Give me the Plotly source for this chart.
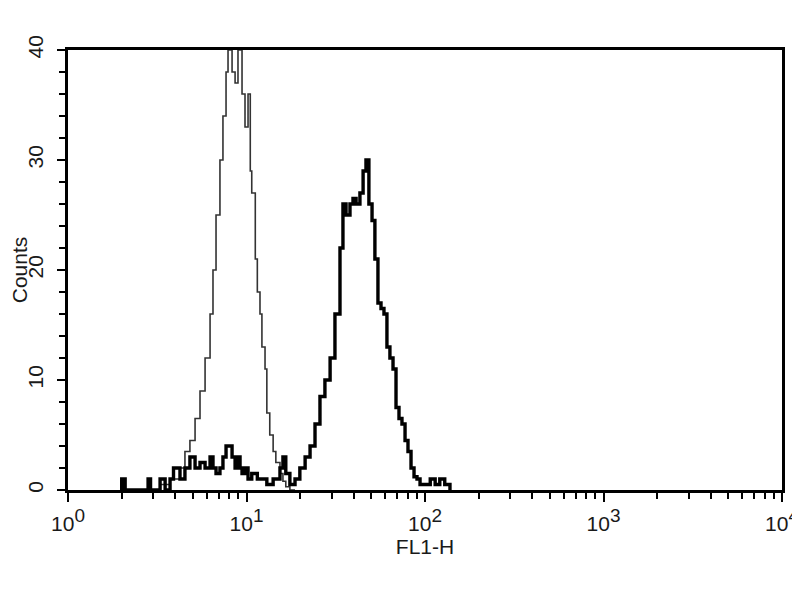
import plotly.graph_objects as go

# FL1-H channel values (log scale) and counts
ctrl_x = [3.0, 3.28, 3.73, 4.24, 4.52, 4.82, 5.15, 5.49, 5.86, 6.25, 6.49, 6.75, 7.10, 7.38, 7.68,
          7.88, 8.08, 8.30, 8.63, 8.96, 9.20, 9.44, 9.81, 10.2, 10.5, 10.7, 11.2, 11.5, 11.9,
          12.2, 12.7, 13.0, 13.5, 14.1, 14.6, 15.4, 16.0, 16.6, 17.5, 18.7]
ctrl_y = [0, 0.5, 1, 2, 3.5, 4.5, 6.5, 9, 12, 16, 20, 25, 30, 34, 38,
          40, 40, 38, 37, 40, 40, 36, 33, 36, 29, 27, 21, 18,
          16, 13, 11, 7, 5, 3.5, 2.5, 1.5, 0.8, 0.3, 0, 0]

pos_x = [1.96, 2.0, 2.09, 2.7, 2.81, 2.9, 3.28, 3.5, 3.73, 3.9, 4.24, 4.52, 4.82, 5.15, 5.49,
         5.86, 6.25, 6.49, 6.75, 7.10, 7.38, 7.68, 7.88, 8.08, 8.30, 8.63, 8.96, 9.20, 9.44,
         9.81, 10.2, 10.7, 11.5, 12.2, 13.0, 14.1, 15.4, 16.0, 16.6, 17.5, 18.7, 19.9, 21.3,
         22.7, 24.2, 25.8, 27.5, 29.4, 31.3, 33.4, 34.7, 36.1, 38.0, 39.5, 41.1, 43.2, 45.0,
         46.7, 48.5, 50.5, 52.4, 54.5, 56.7, 58.9, 61.2, 63.6, 66.2, 68.8, 71.5, 74.3, 77.3,
         80.3, 83.5, 86.8, 90.2, 93.8, 100, 107, 114, 121, 129, 138]
pos_y = [0, 1, 0, 0, 1, 0, 1, 0, 1, 2, 1, 2, 3, 2, 2.5,
         2, 3, 2, 1.5, 2, 3, 4, 4, 4, 3, 2, 3, 2, 1.5,
         2, 1, 1.5, 1, 1, 0.5, 1, 2, 3, 1.5, 0.5, 1, 2, 3,
         4, 6, 8.5, 10, 12, 16, 22, 26, 25, 26, 26.5, 26, 27, 29,
         30, 26, 24.5, 21, 17, 16.5, 16, 13, 12, 11, 7.5, 6.5, 6, 4.5,
         3.5, 2, 1.2, 1, 0.5, 0.5, 1, 0.5, 1, 0.5, 0]

x_major = [1, 10, 100, 1000, 10000]
x_major_text = ["10<sup><span style='font-size:19px'>%d</span></sup>" % k for k in range(5)]
x_minor = [m * d for d in [1, 10, 100, 1000] for m in range(2, 10)]
y_major = [0, 10, 20, 30, 40]

font = "Liberation Sans, Arial, sans-serif"
txt = "#1a1a1a"

fig = go.Figure()
fig.add_trace(go.Scatter(x=ctrl_x, y=ctrl_y, mode="lines", line_shape="hv",
                         line=dict(color="#333333", width=1.6), showlegend=False))
fig.add_trace(go.Scatter(x=pos_x, y=pos_y, mode="lines", line_shape="hv",
                         line=dict(color="black", width=3.4), showlegend=False))

# page body has an 8px default margin, so the figure is offset by 8px
fig.update_layout(
    width=792, height=592,
    margin=dict(l=60, r=18, t=42, b=110),
    paper_bgcolor="white", plot_bgcolor="white",
    font=dict(family=font, color=txt, size=20),
)
fig.update_xaxes(
    type="log", range=[0, 4], showgrid=False, zeroline=False, automargin=False,
    showline=True, linecolor="black", linewidth=3, mirror=True,
    tickmode="array", tickvals=x_major, ticktext=x_major_text,
    ticks="outside", ticklen=9, tickwidth=2, tickcolor="black",
    tickfont=dict(size=21, family=font, color=txt), ticklabelstandoff=4,
    minor=dict(tickvals=x_minor, ticks="outside", ticklen=6, tickwidth=2, tickcolor="black"),
    title=dict(text="FL1-H", font=dict(size=21, family=font, color=txt), standoff=4),
)
fig.update_yaxes(
    range=[0, 40], showgrid=False, zeroline=False, automargin=False,
    showline=True, linecolor="black", linewidth=3, mirror=True,
    tickvals=y_major, tickangle=-90,
    ticks="outside", ticklen=8, tickwidth=2, tickcolor="black",
    tickfont=dict(size=21, family=font, color=txt), ticklabelstandoff=6,
    minor=dict(dtick=2, ticks="outside", ticklen=6, tickwidth=2, tickcolor="black"),
    title=dict(text="Counts", font=dict(size=21, family=font, color=txt), standoff=12),
)

fig.write_html("out.html")
